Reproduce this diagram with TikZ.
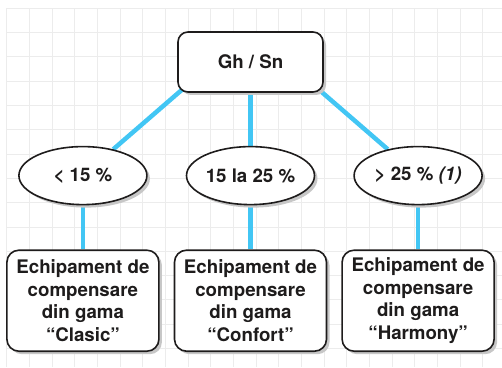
\documentclass[tikz,border=0pt]{standalone}
\usepackage{fontspec}
\setmainfont{TeX Gyre Heros}
\usepackage{xcolor}
\usetikzlibrary{positioning,shapes.geometric,shadows,backgrounds,calc}
\definecolor{linkblue}{RGB}{66,198,244}
\definecolor{gridgray}{RGB}{236,236,236}
\definecolor{inkgray}{RGB}{30,28,28}
\tikzset{
  rootbox/.style={
    rectangle, rounded corners=10pt, draw=inkgray, fill=white,
    minimum width=145pt, minimum height=60pt,
    font=\fontsize{18.7}{22.5}\selectfont\bfseries, text=inkgray,
    align=center, line width=1.6pt,
    drop shadow={fill=black!22, opacity=1, shadow xshift=3pt, shadow yshift=-3pt}
  },
  rangebox/.style={
    ellipse, draw=inkgray, fill=white, inner sep=0pt,
    minimum width=128pt, minimum height=58pt,
    font=\fontsize{18.7}{22.5}\selectfont\bfseries, text=inkgray,
    align=center, line width=1.6pt,
    drop shadow={fill=black!22, opacity=1, shadow xshift=3pt, shadow yshift=-3pt}
  },
  productbox/.style={
    rectangle, rounded corners=12pt, draw=inkgray, fill=white, inner sep=0pt,
    minimum width=152pt, minimum height=101pt,
    font=\fontsize{18.7}{22.5}\selectfont\bfseries, text=inkgray,
    align=center, line width=1.6pt,
    drop shadow={fill=black!22, opacity=1, shadow xshift=3pt, shadow yshift=-3pt}
  },
  bluelink/.style={line width=4.5pt, color=linkblue},
  gridline/.style={line width=1pt, color=gridgray},
}

\begin{document}
\begin{tikzpicture}[x=1pt, y=1pt, node distance=53pt and 38pt]

  \useasboundingbox (0,0) rectangle (502,367);

  % Root
  \node[rootbox] (gh) at (250.5,305) {Gh / Sn};

  % Ranges
  \node[rangebox, below=53pt of gh] (mid) {15 la 25 \%};
  \node[rangebox, left=38pt of mid] (low) {< 15 \%};
  \node[rangebox, right=38pt of mid] (high) {> 25 \% {\itshape (1)}};

  % Equipment
  \node[productbox, below=44pt of low] (clasic) {Echipament de\\compensare\\din gama\\“Clasic”};
  \node[productbox, below=44pt of mid] (confort) {Echipament de\\compensare\\din gama\\“Confort”};
  \node[productbox, below=44pt of high] (harmony) {Echipament de\\compensare\\din gama\\“Harmony”};

  \begin{scope}[on background layer]
    % Grid
    \foreach \i in {0,...,21}
      \draw[gridline] ({6.7+22.67*\i},0) -- ({6.7+22.67*\i},358.7);
    \foreach \j in {0,...,14}
      \draw[gridline] (6.7,{358.7-24.3*\j}) -- (502,{358.7-24.3*\j});

    % Links
    \draw[bluelink] ($(gh.south west)+(7pt,5pt)$) -- (low);
    \draw[bluelink] (gh.south) -- (mid.north);
    \draw[bluelink] ($(gh.south east)+(-7pt,5pt)$) -- (high);
    \draw[bluelink] (low) -- (clasic);
    \draw[bluelink] (mid) -- (confort);
    \draw[bluelink] (high) -- (harmony);
  \end{scope}

\end{tikzpicture}
\end{document}
